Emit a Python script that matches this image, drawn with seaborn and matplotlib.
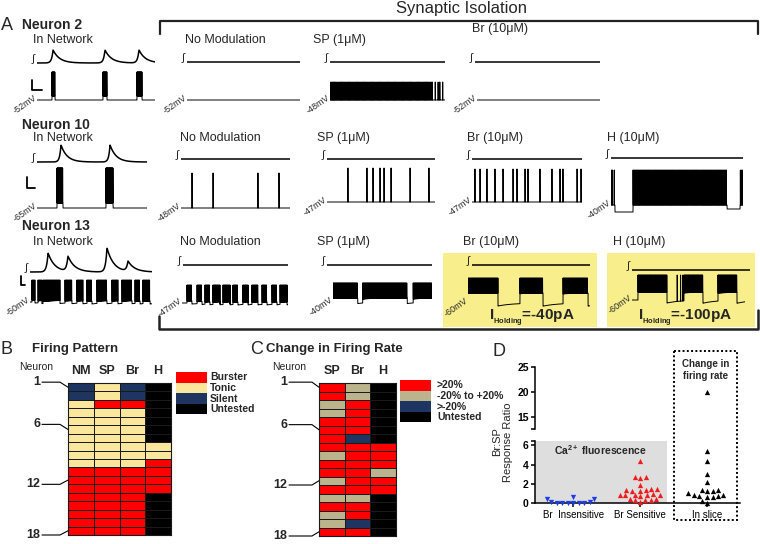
import numpy as np
import pandas as pd
import matplotlib
matplotlib.use("Agg")
import matplotlib.pyplot as plt
import seaborn as sns
from matplotlib.colors import ListedColormap
from matplotlib.patches import Rectangle

sns.set_theme(style="white")
plt.rcParams["font.family"] = ["Liberation Sans", "DejaVu Sans"]
plt.rcParams["mathtext.fontset"] = "custom"
plt.rcParams["mathtext.rm"] = "Liberation Sans"
plt.rcParams["mathtext.bf"] = "Liberation Sans:bold"
plt.rcParams["mathtext.it"] = "Liberation Sans:italic"
plt.rcParams["axes.unicode_minus"] = False

# ======================= DATA =======================
# ---- Panel A : recordings (times in s over a 10 s window) ----
neuron_names = ["Neuron 2", "Neuron 10", "Neuron 13"]
cond_names = ["In Network", "No Modulation", "SP (1μM)", "Br (10μM)", "H (10μM)"]

# Neuron 2
n2_ca_peaks = [[(1.36, 13), (5.76, 13), (8.64, 13)], [], [], []]
n2_rest = [-52, -52, -48, -52]
n2_amp = [56, 40, 36, 40]
n2_spikes = [[], [], [9.15, 9.4, 9.55, 9.8], []]
n2_bursts = [[(1.27, 1.53), (5.59, 5.93), (8.47, 8.90)], [], [(0.0, 9.0)], []]
n2_plateau = [8, 0, 0, 0]
n2_ahp = [0, 0, 0, 0]
n2_dips = [[], [], [], []]
n2_isi = [0.03, 0.1, 0.1, 0.1]

# Neuron 10
n10_ca_peaks = [[(2.18, 17), (6.64, 17)], [], [], [], []]
n10_rest = [-65, -48, -47, -47, -40]
n10_amp = [80, 70, 68, 66, 70]
n10_spikes = [[], [1.01, 2.94, 7.06, 8.99],
              [1.94, 3.70, 4.26, 4.91, 5.28, 5.93, 7.69, 9.44],
              [0.27, 0.73, 1.36, 2.09, 2.82, 3.73, 4.09, 4.82, 5.09, 6.18,
               7.27, 8.00, 8.27, 9.55, 9.91],
              [0.02, 0.12, 0.25, 9.8, 9.9, 9.98]]
n10_bursts = [[(1.82, 2.36), (6.27, 6.91)], [], [], [], [(1.67, 8.79)]]
n10_plateau = [10, 0, 0, 0, 0]
n10_ahp = [0, 0, 0, 0, 0]
n10_dips = [[], [], [], [], [(0.3, 1.67, -14), (8.79, 9.77, -8)]]
n10_isi = [0.03, 0.1, 0.1, 0.1, 0.07]

# Neuron 13
n13_ca_peaks = [[(1.48, 19), (3.11, 15), (6.31, 24), (8.03, 10)], [], [], [], []]
n13_rest = [-50, -47, -40, -60, -60]
n13_amp = [44, 36, 38, 50, 50]
n13_spikes = [[], [], [], [], [4.0, 4.3, 4.5]]
n13_bursts = [
    [(0.16, 0.41), (0.66, 0.98), (1.07, 2.46), (2.87, 3.44), (3.85, 4.34), (4.67, 5.08),
     (5.49, 6.31), (6.72, 7.21), (7.54, 8.36), (8.61, 9.02), (9.26, 9.84)],
    [(0.47, 0.94), (1.42, 1.89), (2.17, 2.64), (2.92, 3.58), (3.87, 4.53), (4.81, 5.28),
     (5.75, 6.23), (6.60, 7.17), (7.55, 8.02), (8.49, 8.96), (9.25, 9.91)],
    [(0.0, 2.5), (3.0, 7.5), (8.1, 10.0)],
    [(0.0, 2.46), (4.26, 6.15), (7.79, 9.84)],
    [(0.53, 3.1), (4.6, 6.28), (7.61, 9.29)]]
n13_plateau = [4, 4, 8, 20, 16]
n13_ahp = [2, 2, 3, 6, 6]
n13_dips = [[], [], [], [], []]
n13_isi = [0.06, 0.06, 0.05, 0.05, 0.05]

holding_labels = ["=-40pA", "=-100pA"]

# ---- Panel B : firing pattern ----
fp_cols = ["NM", "SP", "Br", "H"]
fp_labels = ["Burster", "Tonic", "Silent", "Untested"]
fp_colors = ["#ff0000", "#fbe79c", "#1d3560", "#000000"]
fp_NM = "SSTTTTTTTTBBBBBBBB"
fp_SP = "TTBTTTTTTTBBBBBBBB"
fp_Br = "SSBTTTTTTTBBBBBBBB"
fp_H = "UUUUUUUTTBBBBUUUUU"
fp_code = {"B": 0, "T": 1, "S": 2, "U": 3}

# ---- Panel C : change in firing rate ----
cr_cols = ["SP", "Br", "H"]
cr_labels = [">20%", "-20% to +20%", ">-20%", "Untested"]
cr_colors = ["#ff0000", "#bab38b", "#1d3560", "#000000"]
cr_SP = "IINNIIIINIINININNI"
cr_Br = "NNIIIIDIIIIIINIIDI"
cr_H = "XXXXXXXIIINIIXXXXX"
cr_code = {"I": 0, "N": 1, "D": 2, "X": 3}

row_marks = [1, 6, 12, 18]

# ---- Panel D : Br:SP response ratio ----
d_cats = ["Br  Insensitive", "Br Sensitive", "In slice"]
d_insens = [0.0, 0.02, 0.05, 0.01, 0.03, 0.06, 0.04, 0.08, 0.45, 0.6, 0.4]
d_sens = [4.4, 2.7, 2.6, 2.7, 1.9, 1.45, 1.4, 1.3, 1.3, 1.4, 1.45, 0.85, 0.8, 0.75,
          0.8, 0.8, 0.85, 0.9, 0.45, 0.35, 0.3, 0.35, 0.45, 0.1]
d_slice = [20.0, 5.4, 4.4, 3.0, 2.2, 1.35, 1.3, 1.3, 1.4, 0.7, 0.6, 0.85, 0.8, 1.0,
           0.6, 0.7, 0.0, 0.25]
d_colors = ["#1b3ce6", "#ee1c1c", "#000000"]
d_markers = ["v", "^", "^"]

# ======================= LAYOUT (pixels) =======================
W, H = 760, 544
K = 0.5  # px per mV
A_layout = [
    dict(ca=[(37, 155, 63), (187, 300, 62), (330, 445, 62), (475, 600, 62)],
         v=[(37, 155, 100), (187, 300, 100), (330, 445, 100), (477, 600, 100)],
         lab=[(33, 40), (185, 40), (313, 40), (472, 29)], name=(22, 25),
         bar=(32, 80, 10, 10)),
    dict(ca=[(37, 147, 162), (181, 290, 159), (327, 435, 159), (472, 582, 159), (611, 743, 158)],
         v=[(37, 147, 208), (181, 290, 208), (327, 435, 202), (472, 582, 202), (611, 743, 205)],
         lab=[(33, 138), (180, 138), (317, 138), (467, 138), (607, 138)], name=(22, 125),
         bar=(27, 177, 8, 11)),
    dict(ca=[(30, 152, 272), (183, 288, 265), (327, 432, 265), (472, 590, 265), (632, 750, 270)],
         v=[(30, 152, 302), (182, 288, 303), (333, 432, 302), (468, 590, 303), (632, 745, 300)],
         lab=[(33, 242), (180, 242), (317, 242), (463, 242), (613, 242)], name=(22, 226),
         bar=(21, 276, 4, 9)),
]

fig = plt.figure(figsize=(W / 100, H / 100), dpi=100)


def box(x0, y0, x1, y1):
    return [x0 / W, 1 - y1 / H, (x1 - x0) / W, (y1 - y0) / H]


def pax(x0, y0, x1, y1):
    a = fig.add_axes(box(x0, y0, x1, y1))
    a.set_axis_off()
    return a


bg = fig.add_axes([0, 0, 1, 1])
bg.set_xlim(0, W); bg.set_ylim(H, 0); bg.set_axis_off()
for (x, y, w, h) in [(443, 253, 154, 74), (607, 253, 148, 74)]:
    bg.add_patch(Rectangle((x, y), w, h, fc="#f8ef8c", ec="none"))


def ca_curve(peaks, T=10.0, n=800):
    t = np.linspace(0, T, n)
    y = np.zeros_like(t)
    for tp, a in peaks:
        y += a * np.where(t < tp, np.exp((t - tp) / 0.12), np.exp(-(t - tp) / 0.55))
    return t, y


def vm_curve(rest, amp, spikes, bursts, plateau, isi, ahp, dips, T=10.0, n=2000):
    t = np.linspace(0, T, n)
    base = np.full(n, float(rest))
    for s, e in bursts:
        base[(t >= s) & (t <= e)] += plateau
        if ahp:
            m2 = t > e
            base[m2] -= ahp * np.exp(-(t[m2] - e) / 1.2)
    for s, e, d in dips:
        base[(t >= s) & (t <= e)] += d
    times = list(spikes)
    for s, e in bursts:
        times += list(np.arange(s, e, isi))
    xs, ys = [t], [base]
    if times:
        ts = np.array(times)
        b = np.interp(ts, t, base)
        xs.append(np.repeat(ts, 3))
        ys.append(np.column_stack([b, np.full_like(b, rest + amp), b]).ravel())
    x = np.concatenate(xs); y = np.concatenate(ys)
    o = np.argsort(x, kind="stable")
    return x[o], y[o]


neurons = [
    (n2_ca_peaks, n2_rest, n2_amp, n2_spikes, n2_bursts, n2_plateau, n2_isi, n2_ahp, n2_dips),
    (n10_ca_peaks, n10_rest, n10_amp, n10_spikes, n10_bursts, n10_plateau, n10_isi, n10_ahp, n10_dips),
    (n13_ca_peaks, n13_rest, n13_amp, n13_spikes, n13_bursts, n13_plateau, n13_isi, n13_ahp, n13_dips),
]

for r, (nd, lay) in enumerate(zip(neurons, A_layout)):
    ca_p, rest, amp, spk, bur, plat, isi, ahp, dips = nd
    for i in range(len(ca_p)):
        cx0, cx1, cb = lay["ca"][i]
        axc = pax(cx0, cb - 26, cx1, cb + 3)
        t, y = ca_curve(ca_p[i])
        sns.lineplot(x=t, y=y, ax=axc, color="black", linewidth=1.1, estimator=None,
                     sort=False, legend=False)
        axc.set_xlim(0, 10); axc.set_ylim(-3, 26)
        vx0, vx1, vb = lay["v"][i]
        top = vb - amp[i] * K
        bot = vb + 16 * K
        axv = pax(vx0, top - 1, vx1, bot)
        x, y = vm_curve(rest[i], amp[i], spk[i], bur[i], plat[i], isi[i], ahp[i], dips[i])
        sns.lineplot(x=x, y=y, ax=axv, color="black", linewidth=0.7, estimator=None,
                     sort=False, legend=False)
        axv.set_xlim(0, 10); axv.set_ylim(rest[i] - 16, rest[i] + amp[i] + 2)

fg = fig.add_axes([0, 0, 1, 1])
fg.set_xlim(0, W); fg.set_ylim(H, 0); fg.set_axis_off()

# Panel A annotations
fg.text(7, 25, "A", fontsize=13, ha="center", va="center")
fg.text(462, 9, "Synaptic Isolation", fontsize=12, ha="center", va="center")
fg.plot([160, 160, 758, 758], [34, 21, 21, 34], color="#222222", lw=1.6)
fg.plot([159, 159, 758, 758], [316, 329, 329, 310], color="#222222", lw=1.8)
for r, (nd, lay) in enumerate(zip(neurons, A_layout)):
    rest = nd[1]
    fg.text(lay["name"][0], lay["name"][1], neuron_names[r], fontsize=10,
            fontweight="bold", ha="left", va="center")
    for i in range(len(rest)):
        lx, ly = lay["lab"][i]
        fg.text(lx, ly, cond_names[i], fontsize=9, ha="left", va="center")
        cx0, cx1, cb = lay["ca"][i]
        fg.text(cx0 - 4, cb - 4, "∫", fontsize=8, ha="center", va="center")
        vx0, vx1, vb = lay["v"][i]
        fg.text(vx0 - 1, vb - 3, f"{rest[i]}mV", fontsize=6.5, rotation=35,
                rotation_mode="anchor", ha="right", va="center")
    bx, by, bw, bh = lay["bar"]
    fg.plot([bx, bx, bx + bw], [by, by + bh, by + bh], color="black", lw=1.3)

for (cx, lab) in zip([532, 685], holding_labels):
    fg.text(cx, 318, r"$\mathbf{I}_{{}_{\mathbf{Holding}}}$" + lab, fontsize=11,
            fontweight="bold", ha="center", va="center")


# ---- Panels B and C ----
def heat(x0, y0, x1, y1, cols, series, code, colors):
    ax = fig.add_axes(box(x0, y0, x1, y1))
    df = pd.DataFrame({c: [code[ch] for ch in s] for c, s in zip(cols, series)},
                      index=range(1, 19))
    sns.heatmap(df, ax=ax, cmap=ListedColormap(colors), vmin=-0.5, vmax=len(colors) - 0.5,
                cbar=False, linewidths=0.6, linecolor="#1a1a1a", xticklabels=True,
                yticklabels=False)
    ax.xaxis.tick_top()
    ax.tick_params(axis="x", length=0, pad=4, labelsize=9, top=False, bottom=False)
    for lab in ax.get_xticklabels():
        lab.set_fontweight("bold")
        lab.set_rotation(0)
    ax.set_xlabel(""); ax.set_ylabel("")
    for sp in ax.spines.values():
        sp.set_visible(True); sp.set_color("#1a1a1a"); sp.set_linewidth(0.8)
    return ax


def marks(ax, x0_px, col_px, lab_right, l0, l1):
    offs = [-0.6, -0.6, 0.5, 0.5]
    for rm, off in zip(row_marks, offs):
        yc = rm - 0.5
        ly = yc + off
        ax.plot([(l0 - x0_px) / col_px, (l1 - x0_px) / col_px, 0], [ly, ly, yc],
                color="black", lw=0.8, clip_on=False)
        ax.text((lab_right - x0_px) / col_px, ly, str(rm), fontsize=9, fontweight="bold",
                ha="right", va="center")


axB = heat(68, 383, 171, 535, fp_cols, [fp_NM, fp_SP, fp_Br, fp_H], fp_code, fp_colors)
marks(axB, 68, 25.75, 40, 42, 60)
axC = heat(319, 383, 396, 536, cr_cols, [cr_SP, cr_Br, cr_H], cr_code, cr_colors)
marks(axC, 319, 25.67, 287, 289, 312)

fg.text(7, 349, "B", fontsize=13, ha="center", va="center")
fg.text(32, 349, "Firing Pattern", fontsize=9.5, fontweight="bold", ha="left", va="center")
fg.text(36, 367, "Neuron", fontsize=7.5, ha="center", va="center")
for i, (lab, col) in enumerate(zip(fp_labels, fp_colors)):
    fg.add_patch(Rectangle((176, 372 + i * 10.5), 31, 10.5, fc=col, ec="none"))
    fg.text(210, 377.5 + i * 10.5, lab, fontsize=7.5, fontweight="bold", ha="left", va="center")

fg.text(257, 349, "C", fontsize=13, ha="center", va="center")
fg.text(266, 349, "Change in Firing Rate", fontsize=9.5, fontweight="bold", ha="left",
        va="center")
fg.text(289, 367, "Neuron", fontsize=7.5, ha="center", va="center")
for i, (lab, col) in enumerate(zip(cr_labels, cr_colors)):
    fg.add_patch(Rectangle((400, 380 + i * 10.5), 31, 10.5, fc=col, ec="none"))
    fg.text(437, 385.5 + i * 10.5, lab, fontsize=7.5, fontweight="bold", ha="left", va="center")

# ---- Panel D ----
axL = fig.add_axes(box(535, 441, 740, 503))
axU = fig.add_axes(box(535, 367, 740, 429))
LOW_TOP, UP_BOT = 6.45, 12.6
for cat, vals, col, mk in zip(d_cats, [d_insens, d_sens, d_slice], d_colors, d_markers):
    low = [v for v in vals if v <= LOW_TOP]
    high = [v for v in vals if v > LOW_TOP]
    sns.swarmplot(x=[cat] * len(low), y=low, order=d_cats, color=col, marker=mk, size=3.8,
                  ax=axL, linewidth=0)
    if high:
        sns.swarmplot(x=[cat] * len(high), y=high, order=d_cats, color=col, marker=mk,
                      size=3.8, ax=axU, linewidth=0)
for c in axL.collections + axU.collections:
    c.set_clip_on(False); c.set_zorder(3)
axL.add_patch(Rectangle((-0.57, 0), 1.97, LOW_TOP, fc="#dedede", ec="none", zorder=0))
axL.text(0.40, 5.5, r"Ca$^{\mathbf{2+}}$ fluorescence", fontsize=7.5, fontweight="bold",
         ha="center", va="center")
for a, lo, hi in [(axL, 0, LOW_TOP), (axU, UP_BOT, 25)]:
    a.set_xlim(-0.57, 2.49); a.set_ylim(lo, hi)
    a.patch.set_alpha(0)
    a.set_xlabel(""); a.set_ylabel("")
    for s in ["top", "right"]:
        a.spines[s].set_visible(False)
    a.spines["left"].set_color("black"); a.spines["left"].set_linewidth(1.1)
axL.spines["bottom"].set_color("black"); axL.spines["bottom"].set_linewidth(1.1)
axU.spines["bottom"].set_visible(False)
axL.set_yticks([0, 2, 4, 6]); axU.set_yticks([15, 20, 25])
axL.set_yticks([LOW_TOP], minor=True); axU.set_yticks([UP_BOT], minor=True)
for a in (axL, axU):
    a.tick_params(axis="y", which="both", left=True, length=3, width=1.1, direction="out",
                  pad=1.5, labelsize=7.5, colors="black")
    for lab in a.get_yticklabels():
        lab.set_fontweight("bold")
axL.set_xticks([0, 1, 2]); axL.set_xticklabels(d_cats, fontsize=7)
axL.tick_params(axis="x", bottom=True, length=3, width=1.1, pad=2, colors="black")
axU.set_xticks([])

fg.text(499, 352, "D", fontsize=13, ha="center", va="center")
fg.text(503, 442, "Br:SP\nResponse Ratio", fontsize=8, rotation=90, ha="center",
        va="center", linespacing=1.1)
fg.add_patch(Rectangle((674, 351), 63, 169, fill=False, ec="black", lw=1.4, ls=(0, (1, 1.2))))
fg.text(706, 370, "Change in\nfiring rate", fontsize=7, fontweight="bold", ha="center",
        va="center", linespacing=1.2)

fig.savefig("out.png", dpi=100)
